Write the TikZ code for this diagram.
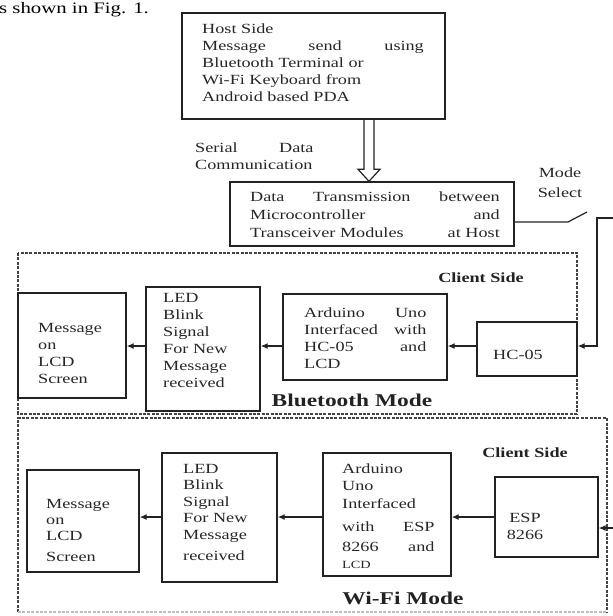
\documentclass[tikz,border=0pt]{standalone}
\usepackage{fontspec}
\setmainfont{Liberation Serif}
\usepackage{graphicx}
\usetikzlibrary{arrows.meta,calc}
\definecolor{ink}{HTML}{222222}
\definecolor{txt}{HTML}{262626}
\newcommand{\stxt}[2]{\scalebox{1.3}[1]{\parbox[t]{#1}{#2}}}
\newcommand{\sline}[1]{\scalebox{1.3}[1]{#1}}
\begin{document}
\begin{tikzpicture}[x=1pt,y=-1pt,
  box/.style={draw=ink, line width=1.4pt, inner sep=0pt, rectangle},
  lbl/.style={inner sep=0pt, text=txt, font=\fontsize{14}{17}\selectfont},
  bold/.style={inner sep=0pt, text=ink, font=\bfseries\fontsize{14}{17}\selectfont},
  modelbl/.style={inner sep=0pt, text=ink, font=\bfseries\fontsize{18}{20}\selectfont},
  wire/.style={draw=ink, line width=1.2pt},
  arr/.style={draw=ink, line width=1.2pt, -{Latex[length=7pt,width=6pt]}},
  dbl/.style={draw=ink, line width=1.2pt, line join=miter},
  region/.style={draw=ink!85, line width=1.3pt, dash pattern=on 3pt off 1.4pt}]
\useasboundingbox (0,0) rectangle (613,616);
\clip (0,0) rectangle (613,616);

% caption text of the page
\node[lbl, anchor=base west, text=black, font=\fontsize{16}{16}\selectfont] (figT) at (-1,13) {\sline{s shown in Fig. 1.}};

% host
\node[box, minimum width=263pt, minimum height=106pt] (host) at (313.5,66) {};
\node[lbl, anchor=base west] (hostT) at (202,33) {\stxt{170.5pt}{Host Side\\ Message\hfill send\hfill using\\ Bluetooth Terminal or\\ Wi-Fi Keyboard from\\ Android based PDA}};

% data transmission
\node[box, minimum width=284pt, minimum height=64pt] (data) at (372,214) {};
\node[lbl, anchor=base west, font=\fontsize{14}{18}\selectfont] (dataT) at (250,201) {\stxt{192pt}{Data\hfill Transmission\hfill between\\ Microcontroller\hfill and\\ Transceiver Modules\hfill at Host}};

% double arrow
\coordinate (ax) at (369,0);
\draw[dbl] ($(host.south -| ax)+(-5,0)$) -- ($(data.north -| ax)+(-5,-12)$) -- ($(data.north -| ax)+(-11,-12)$) -- (data.north -| ax) -- ($(data.north -| ax)+(11,-12)$) -- ($(data.north -| ax)+(5,-12)$) -- ($(host.south -| ax)+(5,0)$);

\node[lbl, anchor=base west] (serT) at (195,152) {\stxt{91pt}{Serial\hfill Data\\ Communication}};
\node[lbl, anchor=base, font=\fontsize{14}{20}\selectfont] (modeT) at (560,177) {\stxt{46pt}{\centering Mode\\ Select}};

% switch
\coordinate (ys) at (0,222);
\coordinate (swa) at (568,222);
\coordinate (swb) at (587,212);
\draw[wire] (data.east |- ys) -- (swa) -- (swb);

% regions
\draw[region] (18,253) rectangle (577,414);
\draw[region] (18,612) -- (18,418) -- (607,418) -- (607,612);
\draw[region, draw=ink!30] (18,612) -- (607,612);

% bluetooth boxes
\node[box, minimum width=108pt, minimum height=105pt] (bLCD) at (72,345.5) {};
\node[box, minimum width=114pt, minimum height=124pt] (bLED) at (203,349) {};
\node[box, minimum width=164pt, minimum height=86pt] (bArd) at (365,337) {};
\node[box, minimum width=100pt, minimum height=54pt] (bHC) at (527,349) {};

\node[lbl, anchor=base west] (bLCDT) at (38,332) {\stxt{60pt}{Message\\ on\\ LCD\\ Screen}};
\node[lbl, anchor=base west] (bLEDT) at (163,302) {\stxt{70pt}{LED\\ Blink\\ Signal\\ For New\\ Message\\ received}};
\node[lbl, anchor=base west] (bArdT) at (304,317) {\stxt{94pt}{Arduino\hfill Uno\\ Interfaced\hfill with\\ HC-05\hfill and\\ LCD}};
\node[lbl] (bHCT) at (518,355) {\sline{HC-05}};
\node[bold] (bCS) at (481,278) {\sline{Client Side}};
\node[modelbl] (bMode) at (352,400) {\sline{Bluetooth Mode}};

% wifi boxes
\node[box, minimum width=112pt, minimum height=102pt] (wLCD) at (83,521) {};
\node[box, minimum width=115pt, minimum height=129pt] (wLED) at (219.5,517.5) {};
\node[box, minimum width=128pt, minimum height=123pt] (wArd) at (387,514.5) {};
\node[box, minimum width=103pt, minimum height=80pt] (wESP) at (546.5,517) {};

\node[lbl, anchor=base west, font=\fontsize{14}{16}\selectfont] (wLCDT) at (46,508) {\stxt{60pt}{Message\\ on\\ LCD\\[5pt] Screen}};
\node[lbl, anchor=base west, font=\fontsize{14}{16.5}\selectfont] (wLEDT) at (183,473) {\stxt{70pt}{LED\\ Blink\\ Signal\\ For New\\ Message\\[5pt] received}};
\node[lbl, anchor=base west, font=\fontsize{14}{17.5}\selectfont] (wArdT) at (342,473) {\stxt{71pt}{Arduino\\ Uno\\ Interfaced\\[6pt] with\hfill ESP\\[2pt] 8266\hfill and\\ {\fontsize{11}{12}\selectfont LCD}}};
\node[lbl, anchor=base] (wESPT) at (525,522) {\stxt{40pt}{\centering ESP\\ 8266}};
\node[bold] (wCS) at (525,453) {\sline{Client Side}};
\node[modelbl] (wMode) at (403,598) {\sline{Wi-Fi Mode}};

% feed from switch
\coordinate (sw) at (597,218);
\coordinate (far) at (640,218);
\coordinate (yb) at (0,346);
\coordinate (yw) at (0,528);
\coordinate (yi) at (0,517);
\draw[arr] (far) -- (sw) -- (sw |- yb) -- (bHC.east |- yb);
\draw[arr] (far) -- (far |- yw) -- (wESP.east |- yw);

% bluetooth chain
\draw[arr] (bHC.west |- yb) -- (bArd.east |- yb);
\draw[arr] (bArd.west |- yb) -- (bLED.east |- yb);
\draw[arr] (bLED.west |- yb) -- (bLCD.east |- yb);

% wifi chain
\draw[arr] (wESP.west |- yi) -- (wArd.east |- yi);
\draw[arr] (wArd.west |- yi) -- (wLED.east |- yi);
\draw[arr] (wLED.west |- yi) -- (wLCD.east |- yi);
\end{tikzpicture}
\end{document}
